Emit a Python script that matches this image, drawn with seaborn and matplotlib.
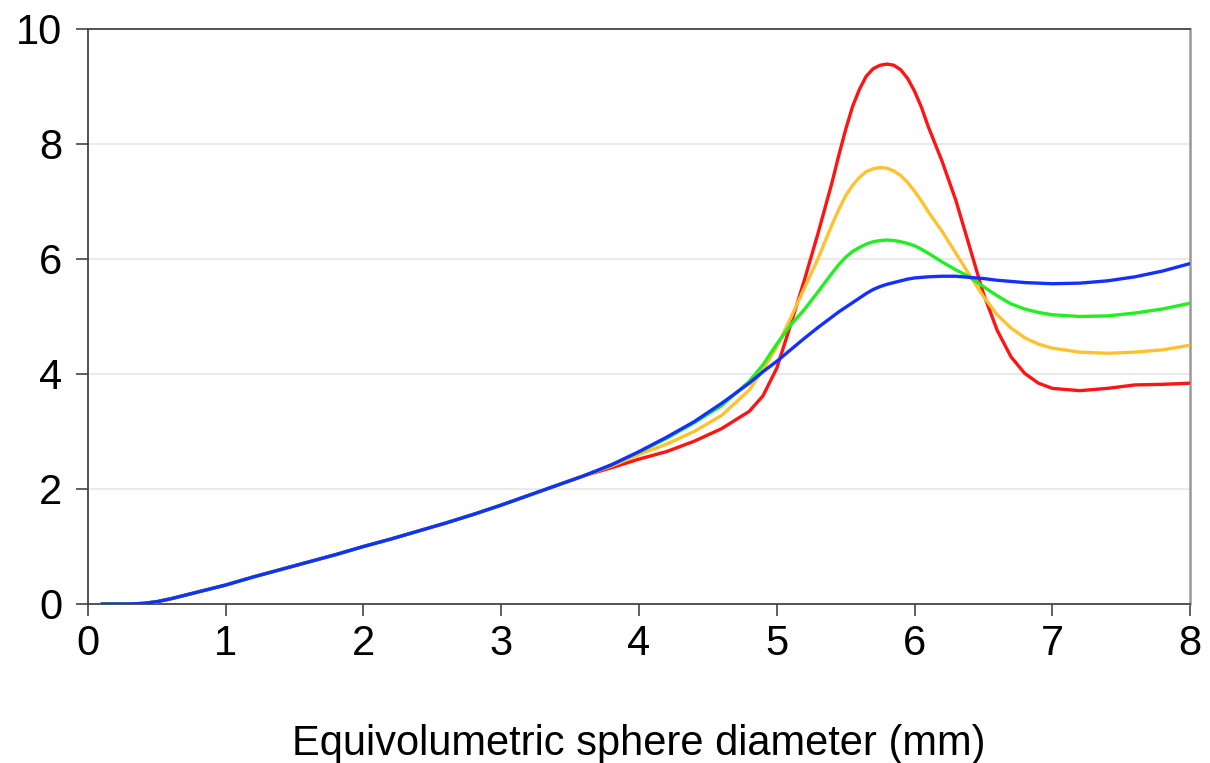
import numpy as np
import pandas as pd
import matplotlib
matplotlib.use("Agg")
import matplotlib.pyplot as plt
import seaborn as sns

# Shared x grid (mm)
x_vals = [0.1, 0.2, 0.3, 0.4, 0.5, 0.6, 0.7, 0.8, 0.9, 1.0, 1.2, 1.4, 1.6, 1.8,
          2.0, 2.2, 2.4, 2.6, 2.8, 3.0, 3.2, 3.4, 3.6, 3.8, 4.0, 4.2, 4.4, 4.6,
          4.8, 4.9, 5.0, 5.1, 5.2, 5.3, 5.4, 5.45, 5.5, 5.55, 5.6, 5.65, 5.7, 5.75,
          5.8, 5.85, 5.9, 5.95, 6.0, 6.05, 6.1, 6.2, 6.3, 6.4, 6.5, 6.6, 6.7, 6.8,
          6.9, 7.0, 7.2, 7.4, 7.6, 7.8, 8.0]

common_low = [0.0, 0.0, 0.0, 0.01, 0.04, 0.09, 0.15, 0.21, 0.27, 0.33, 0.47, 0.60,
              0.73, 0.86, 1.00, 1.13, 1.27, 1.41, 1.56, 1.72, 1.89, 2.06, 2.23]

red_vals = common_low + [2.37, 2.52, 2.65, 2.83, 3.05, 3.35, 3.62, 4.10, 4.85, 5.63,
                         6.45, 7.32, 7.80, 8.25, 8.65, 8.95, 9.18, 9.31, 9.37, 9.39,
                         9.37, 9.29, 9.14, 8.92, 8.64, 8.30, 7.70, 7.02, 6.21, 5.40,
                         4.76, 4.30, 4.01, 3.84, 3.75, 3.71, 3.75, 3.81, 3.82, 3.84]
yellow_vals = common_low + [2.40, 2.60, 2.78, 3.00, 3.28, 3.72, 4.07, 4.47, 4.97, 5.49,
                            6.01, 6.59, 6.86, 7.10, 7.28, 7.42, 7.52, 7.57, 7.59, 7.58,
                            7.53, 7.45, 7.33, 7.18, 7.01, 6.82, 6.48, 6.10, 5.72, 5.35,
                            5.03, 4.80, 4.63, 4.52, 4.45, 4.38, 4.36, 4.38, 4.42, 4.50]
green_vals = common_low + [2.42, 2.64, 2.88, 3.15, 3.45, 3.87, 4.16, 4.52, 4.85, 5.12,
                           5.43, 5.75, 5.90, 6.03, 6.13, 6.20, 6.26, 6.30, 6.32, 6.33,
                           6.32, 6.30, 6.27, 6.23, 6.17, 6.10, 5.95, 5.81, 5.69, 5.52,
                           5.36, 5.22, 5.13, 5.07, 5.03, 5.00, 5.01, 5.06, 5.13, 5.23]
blue_vals = common_low + [2.42, 2.65, 2.90, 3.17, 3.49, 3.84, 4.04, 4.22, 4.42, 4.62,
                          4.81, 4.99, 5.08, 5.16, 5.24, 5.32, 5.40, 5.47, 5.52, 5.56,
                          5.59, 5.62, 5.65, 5.67, 5.68, 5.69, 5.70, 5.70, 5.68, 5.66,
                          5.63, 5.61, 5.59, 5.58, 5.57, 5.58, 5.62, 5.69, 5.79, 5.92]

series_names = ["red", "yellow", "green", "blue"]
series_colors = ["#ff1414", "#ffc22e", "#22ee22", "#1430ff"]
x_ticks = [0, 1, 2, 3, 4, 5, 6, 7, 8]
y_ticks = [0, 2, 4, 6, 8, 10]
x_label = "Equivolumetric sphere diameter (mm)"

frames = []
for name, vals in zip(series_names, [red_vals, yellow_vals, green_vals, blue_vals]):
    frames.append(pd.DataFrame({"x": x_vals, "y": vals, "series": name}))
df = pd.concat(frames, ignore_index=True)

sns.set_theme(style="white")
plt.rcParams["font.family"] = ["Liberation Sans", "DejaVu Sans"]

fig = plt.figure(figsize=(12.1, 7.63), dpi=100)
ax = fig.add_axes([0.0727, 0.2084, 0.9108, 0.7536])

sns.lineplot(data=df, x="x", y="y", hue="series", hue_order=series_names,
             palette=dict(zip(series_names, series_colors)), linewidth=2.4,
             legend=False, ax=ax, sort=False, zorder=3)

ax.set_xlim(0, 8)
ax.set_ylim(0, 10)
ax.set_xticks(x_ticks)
ax.set_yticks(y_ticks)
ax.set_xticklabels([str(t) for t in x_ticks])
ax.set_yticklabels([str(t) for t in y_ticks])
ax.tick_params(axis="both", direction="out", length=8.5, width=1.2, color="#444444",
               labelsize=30, labelcolor="black", bottom=True, left=True)
ax.tick_params(axis="x", pad=6)
ax.tick_params(axis="y", pad=10)
ax.set_xlabel(x_label, fontsize=30, labelpad=43, color="black")
ax.set_ylabel("")

ax.grid(False)
for yv in y_ticks[1:-1]:
    ax.axhline(yv, color="#e6e6e6", linewidth=1.2, zorder=1)

for side in ["left", "bottom", "top"]:
    ax.spines[side].set_color("#444444")
    ax.spines[side].set_linewidth(1.3)
ax.spines["right"].set_color("#999999")
ax.spines["right"].set_linewidth(1.8)

fig.savefig("out.png", dpi=100)
